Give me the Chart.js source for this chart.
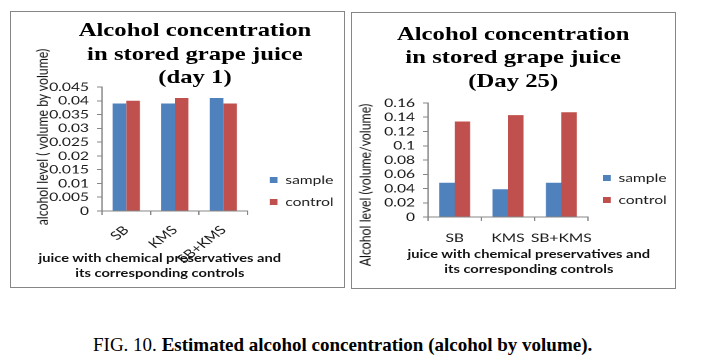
<!DOCTYPE html>
<html>
<head>
<meta charset="utf-8">
<script src="https://cdn.jsdelivr.net/npm/chart.js@4"></script>
<style>
  html, body { margin:0; padding:0; background:#fff; }
  body { width:711px; height:363px; position:relative; overflow:hidden; }
  .box { position:absolute; border:1px solid #868686; box-sizing:border-box; background:#fff; }
  .wrap { position:absolute; transform:scaleX(1.3); transform-origin:0 0; }
  .wrap canvas { position:absolute; left:0; top:0; }
  .title { position:absolute; width:300px; text-align:center; font-family:"Liberation Serif","Times New Roman",serif; font-weight:bold; font-size:19px; line-height:23.5px; color:#000; white-space:nowrap; }
  .xt { position:absolute; width:300px; text-align:center; font-family:Lato,sans-serif; font-weight:bold; font-size:11.3px; line-height:14.5px; color:#111; white-space:nowrap; }
  .yt { position:absolute; width:260px; height:16px; line-height:16px; text-align:center; font-family:Lato,sans-serif; font-size:12.3px; color:#111; white-space:nowrap; transform:rotate(-90deg); transform-origin:50% 50%; }
  .cap { position:absolute; left:93px; top:335px; font-family:"Liberation Serif","Times New Roman",serif; font-size:19px; line-height:19px; color:#000; white-space:nowrap; }
</style>
</head>
<body>
<div class="box" style="left:10px;top:11px;width:335px;height:277px;"></div>
<div class="box" style="left:351px;top:12px;width:325px;height:277px;"></div>

<div class="wrap" style="left:11px;top:12px;width:255px;height:274px;">
  <canvas id="c1" width="255" height="274"></canvas>
  <div class="title" style="left:-8.5px;top:6px;">Alcohol concentration<br>in stored grape juice<br>(day 1)</div>
  <div class="yt" style="left:-106px;top:117px;">alcohol level ( volume by volume)</div>
  <div class="xt" style="left:-35.5px;top:239px;">juice with chemical preservatives and<br>its corresponding controls</div>
</div>

<div class="wrap" style="left:352px;top:13px;width:247px;height:274px;">
  <canvas id="c2" width="247" height="274"></canvas>
  <div class="title" style="left:-26px;top:8.5px;">Alcohol concentration<br>in stored grape juice<br>(Day 25)</div>
  <div class="yt" style="left:-120px;top:164px;">Alcohol level (volume/volume)</div>
  <div class="xt" style="left:-14px;top:234px;">juice with chemical preservatives and<br>its corresponding controls</div>
</div>

<div class="cap">FIG. 10. <b>Estimated alcohol concentration (alcohol by volume).</b></div>

<script>
const categories = ['SB', 'KMS', 'SB+KMS'];
const seriesNames = ['sample', 'control'];
const day1Sample = [0.039, 0.039, 0.041];
const day1Control = [0.040, 0.041, 0.039];
const day25Sample = [0.048, 0.039, 0.048];
const day25Control = [0.134, 0.143, 0.147];
const day1Ticks = ['0', '0.005', '0.01', '0.015', '0.02', '0.025', '0.03', '0.035', '0.04', '0.045'];
const day25Ticks = ['0', '0.02', '0.04', '0.06', '0.08', '0.1', '0.12', '0.14', '0.16'];

const BLUE = '#4F81BD';
const RED = '#C0504D';
const AXIS = '#868686';
const TEXT = '#1a1a1a';

Chart.defaults.font.family = 'Lato, sans-serif';
Chart.defaults.color = TEXT;

function makeChart(id, sample, control, tickLabels, yMax, yStep, L) {
  const legendPos = {
    id: 'legendPos',
    afterLayout(chart) {
      const lg = chart.legend;
      if (!lg) return;
      lg.left = L.legendLeft; lg.top = L.legendTop;
      lg.right = L.legendLeft + 90; lg.bottom = L.legendTop + 70;
      lg.width = 90; lg.height = 70;
    }
  };
  return new Chart(document.getElementById(id), {
    type: 'bar',
    data: {
      labels: categories,
      datasets: [
        { label: seriesNames[0], data: sample, backgroundColor: BLUE, borderWidth: 0 },
        { label: seriesNames[1], data: control, backgroundColor: RED, borderWidth: 0 }
      ]
    },
    options: {
      responsive: false,
      animation: false,
      devicePixelRatio: 2,
      layout: { padding: { left: 0, top: L.padTop, right: L.padRight, bottom: 0 } },
      datasets: { bar: { categoryPercentage: L.catPct, barPercentage: 1 } },
      plugins: {
        title: { display: false },
        tooltip: { enabled: false },
        legend: {
          position: 'chartArea',
          align: 'start',
          labels: { boxWidth: 6, boxHeight: 6, padding: 10, color: TEXT, font: { size: 12, family: 'Lato, sans-serif' } }
        }
      },
      scales: {
        x: {
          grid: { display: true, drawOnChartArea: false, drawTicks: true, tickLength: 4, color: AXIS, offset: true },
          border: { display: true, color: AXIS, width: 1 },
          ticks: { autoSkip: false, maxRotation: L.rot, minRotation: L.rot, padding: L.xPad, color: TEXT, font: { size: 12 } },
          afterFit(s) { s.height = L.xH; }
        },
        y: {
          min: 0, max: yMax,
          grid: { display: true, drawOnChartArea: false, drawTicks: true, tickLength: 4, color: AXIS },
          border: { display: true, color: AXIS, width: 1 },
          ticks: { stepSize: yStep, autoSkip: false, padding: 6, color: TEXT, font: { size: 12 },
                   callback: (v, i) => tickLabels[i] },
          afterFit(s) { s.width = L.yW; }
        }
      }
    },
    plugins: [legendPos]
  });
}

makeChart('c1', day1Sample, day1Control, day1Ticks, 0.045, 0.005, {
  padTop: 75, padRight: 73, yW: 70, xH: 75, catPct: 0.56, rot: 45, xPad: 8,
  legendLeft: 189, legendTop: 152
});
makeChart('c2', day25Sample, day25Control, day25Ticks, 0.16, 0.02, {
  padTop: 90, padRight: 65.5, yW: 58.5, xH: 70, catPct: 0.58, rot: 0, xPad: 10,
  legendLeft: 183, legendTop: 149
});
</script>
</body>
</html>
